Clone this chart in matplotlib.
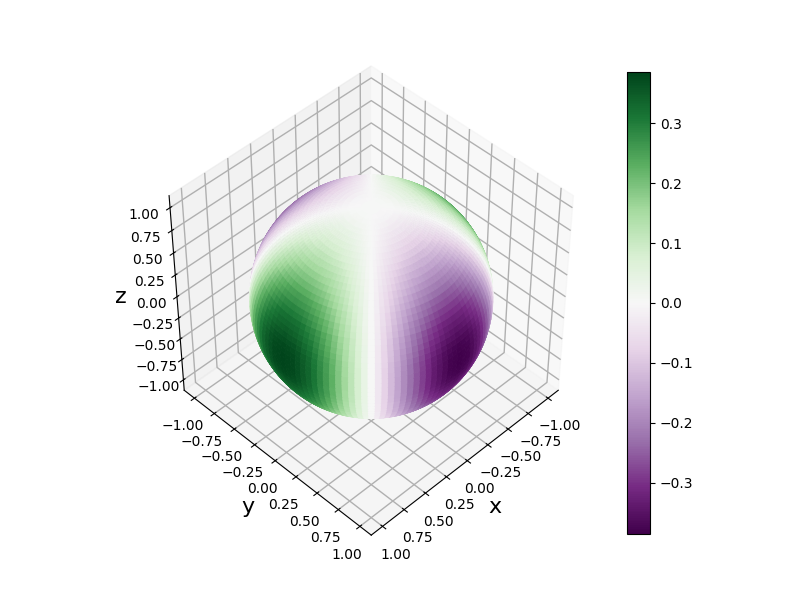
import numpy as np
import matplotlib
matplotlib.use("Agg")
import matplotlib.pyplot as plt
from matplotlib import cm, colors

# Values: peak of the colour bar, and the relative
# strength of the pattern every 3 degrees, pole to equator and along a
# quarter of the azimuth range (the rest follows from the picture's symmetry).
peak_value = 0.386
polar_step = 3
polar_pole_to_equator = [0.00, 0.00, 0.01, 0.02, 0.04, 0.07, 0.10, 0.13, 0.17, 0.21, 0.25,
                         0.30, 0.35, 0.40, 0.45, 0.50, 0.55, 0.60, 0.66, 0.70, 0.75,
                         0.79, 0.84, 0.87, 0.90, 0.93, 0.96, 0.98, 0.99, 1.00, 1.00]
azimuth_quarter = [1.00, 0.99, 0.98, 0.95, 0.91, 0.87, 0.81, 0.74, 0.67, 0.59, 0.50,
                   0.41, 0.31, 0.21, 0.10, 0.00]
axis_ticks = [-1.00, -0.75, -0.50, -0.25, 0.00, 0.25, 0.50, 0.75, 1.00]
axis_limit = 1.13

polar_strength = polar_pole_to_equator + polar_pole_to_equator[-2::-1]
half = azimuth_quarter + [-v for v in azimuth_quarter[-2::-1]]
azimuth_half_turn = half + half[-2:0:-1]
azimuth_strength = azimuth_half_turn + azimuth_half_turn
field = peak_value * np.outer(polar_strength, azimuth_strength)

# Cell edges of the unit sphere, each cell centred on a table entry.
polar_deg = polar_step * np.arange(len(polar_strength))
azimuth_deg = polar_step * np.arange(len(azimuth_strength))
half_step = polar_step / 2
theta_edges = np.radians(np.clip(np.r_[polar_deg - half_step, polar_deg[-1] + half_step], 0, 180))
phi_edges = np.radians(np.r_[azimuth_deg - half_step, azimuth_deg[-1] + half_step])
theta, phi = np.meshgrid(theta_edges, phi_edges, indexing="ij")
x = np.sin(theta) * np.cos(phi)
y = np.sin(theta) * np.sin(phi)
z = np.cos(theta)

norm = colors.Normalize(-peak_value, peak_value)
cmap = plt.get_cmap("PRGn")
face = np.ones(x.shape + (4,))
face[:-1, :-1] = cmap(norm(field))

plt.rcParams["grid.linewidth"] = 1.0
fig = plt.figure(figsize=(8, 6), dpi=100)
ax = fig.add_subplot(projection="3d")
ax.plot_surface(x, y, z, facecolors=face, rcount=x.shape[0], ccount=x.shape[1],
                shade=False, linewidth=0.6, antialiased=True)
ax.view_init(elev=45, azim=45)
ax.set_xlim(-axis_limit, axis_limit)
ax.set_ylim(-axis_limit, axis_limit)
ax.set_zlim(-axis_limit, axis_limit)
ax.set_xticks(axis_ticks); ax.set_yticks(axis_ticks); ax.set_zticks(axis_ticks)
ax.set_box_aspect((1, 1, 1))
ax.set_xlabel("x", fontsize=16)
ax.set_ylabel("y", fontsize=16)
ax.set_zlabel("z", fontsize=16)
fig.colorbar(cm.ScalarMappable(norm=norm, cmap=cmap), ax=ax)
fig.savefig("out.png", dpi=100)
